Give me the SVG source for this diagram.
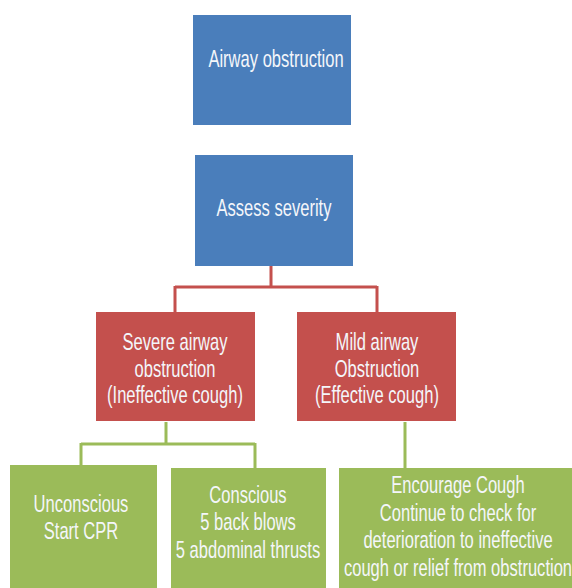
<svg xmlns="http://www.w3.org/2000/svg" width="572" height="588" viewBox="0 0 572 588">
<style>
.blue{fill:#4a7ebb}
.red{fill:#c4504d}
.green{fill:#9bbb59}
.t{font-family:"Liberation Sans",Arial,sans-serif;font-size:24px;fill:#f4f6fa;text-anchor:middle}
.cr{stroke:#c4504d;stroke-width:3;fill:none}
.cg{stroke:#9bbb59;stroke-width:3;fill:none}
</style>
<rect width="572" height="588" fill="#ffffff"/>
<g id="connectors">
<path class="cr" d="M271 266V287M175 287H377M175 286V312M377 286V312"/>
<path class="cg" d="M166 422V444M81 444H255M81 443V465M255 443V468M405 422V468"/>
</g>
<g id="n1">
<rect class="blue" x="193" y="15" width="158" height="110"/>
<text class="t" transform="translate(276,67) scale(0.69,1)">Airway obstruction</text>
</g>
<g id="n2">
<rect class="blue" x="195" y="155" width="158" height="111"/>
<text class="t" transform="translate(274,216) scale(0.69,1)">Assess severity</text>
</g>
<g id="n3">
<rect class="red" x="96" y="312" width="159" height="109"/>
<text class="t" transform="translate(175,350) scale(0.69,1)"><tspan x="0" y="0">Severe airway</tspan><tspan x="0" y="27">obstruction</tspan><tspan x="0" y="53">(Ineffective cough)</tspan></text>
</g>
<g id="n4">
<rect class="red" x="297" y="312" width="159" height="109"/>
<text class="t" transform="translate(377,350) scale(0.69,1)"><tspan x="0" y="0">Mild airway</tspan><tspan x="0" y="27">Obstruction</tspan><tspan x="0" y="53">(Effective cough)</tspan></text>
</g>
<g id="n5">
<rect class="green" x="10" y="465" width="147" height="123"/>
<text class="t" transform="translate(81,512) scale(0.69,1)"><tspan x="0" y="0">Unconscious</tspan><tspan x="0" y="27">Start CPR</tspan></text>
</g>
<g id="n6">
<rect class="green" x="171" y="468" width="155" height="120"/>
<text class="t" transform="translate(248,503) scale(0.69,1)"><tspan x="0" y="0">Conscious</tspan><tspan x="0" y="27.5">5 back blows</tspan><tspan x="0" y="55">5 abdominal thrusts</tspan></text>
</g>
<g id="n7">
<rect class="green" x="339" y="468" width="240" height="120"/>
<text class="t" transform="translate(458,493) scale(0.69,1)"><tspan x="0" y="0">Encourage Cough</tspan><tspan x="0" y="28">Continue to check for</tspan><tspan x="0" y="55.5">deterioration to ineffective</tspan><tspan x="0" y="83">cough or relief from obstruction</tspan></text>
</g>
</svg>
